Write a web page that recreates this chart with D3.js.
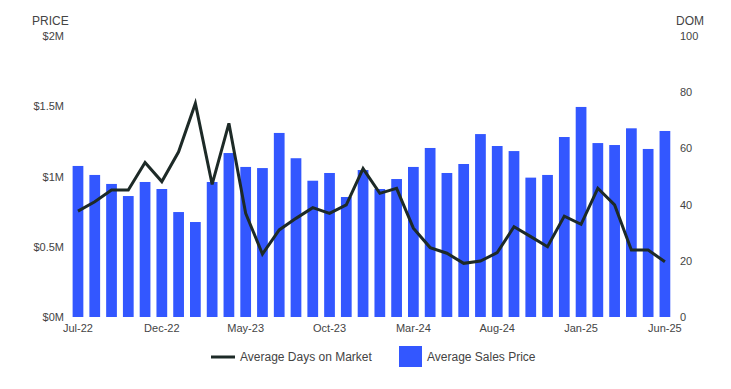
<!DOCTYPE html>
<html>
<head>
<meta charset="utf-8">
<script src="https://cdn.jsdelivr.net/npm/d3@7"></script>
<style>
  body { margin: 0; background: #fff; }
  svg { font-family: "Liberation Sans", Arial, sans-serif; }
  .axis text { fill: #444; font-size: 11px; }
  .axis path, .axis line { display: none; }
</style>
</head>
<body>
<div id="chart"></div>
<script>
// months shown on the x axis
var months = [
    "Jul-22", "Aug-22", "Sep-22", "Oct-22", "Nov-22", "Dec-22",
    "Jan-23", "Feb-23", "Mar-23", "Apr-23", "May-23", "Jun-23",
    "Jul-23", "Aug-23", "Sep-23", "Oct-23", "Nov-23", "Dec-23",
    "Jan-24", "Feb-24", "Mar-24", "Apr-24", "May-24", "Jun-24",
    "Jul-24", "Aug-24", "Sep-24", "Oct-24", "Nov-24", "Dec-24",
    "Jan-25", "Feb-25", "Mar-25", "Apr-25", "May-25", "Jun-25"
];
var shownMonths = ["Jul-22", "Dec-22", "May-23", "Oct-23", "Mar-24", "Aug-24", "Jan-25", "Jun-25"];

// average sales price (dollars)
var salesPrice = [
    1075000, 1011000, 947000, 861000, 961000, 911000,
    747000, 676000, 961000, 1167000, 1068000, 1060000,
    1310000, 1130000, 970000, 1025000, 854000, 1046000,
    911000, 982000, 1068000, 1203000, 1025000, 1089000,
    1302000, 1217000, 1181000, 992000, 1011000, 1281000,
    1495000, 1238000, 1224000, 1343000, 1196000, 1324000
];

// average days on market
var daysOnMarket = [
    37.7, 41, 45.2, 45.2, 55, 48.2,
    58.8, 76, 47.2, 68.9, 36.9, 22.4,
    31, 35.1, 38.9, 36.9, 39.9, 52.8,
    44, 45.8, 31.6, 24.7, 22.7, 19.1,
    19.9, 22.9, 32.1, 28.6, 25, 35.9,
    33, 45.8, 39.9, 23.8, 23.8, 19.7
];

var priceTicks = [0, 500000, 1000000, 1500000, 2000000];
var priceTickLabels = ["$0M", "$0.5M", "$1M", "$1.5M", "$2M"];
var domTicks = [0, 20, 40, 60, 80, 100];

var svgWidth = 731, svgHeight = 389;
var plotLeft = 69.6, plotRight = 673.3, plotTop = 36, plotBottom = 317;

var svg = d3.select("#chart").append("svg")
    .attr("width", svgWidth)
    .attr("height", svgHeight);

var x = d3.scaleBand()
    .domain(months)
    .range([plotLeft, plotRight])
    .paddingInner(0.36)
    .paddingOuter(0.18);

var yPrice = d3.scaleLinear().domain([0, 2000000]).range([plotBottom, plotTop]);
var yDom = d3.scaleLinear().domain([0, 100]).range([plotBottom, plotTop]);

// bars
svg.selectAll(".bar")
    .data(salesPrice)
    .enter().append("rect")
    .attr("class", "bar")
    .attr("fill", "#3357ff")
    .attr("x", function (d, i) { return x(months[i]); })
    .attr("width", x.bandwidth())
    .attr("y", function (d) { return yPrice(d); })
    .attr("height", function (d) { return plotBottom - yPrice(d); });

// days on market line
var line = d3.line()
    .x(function (d, i) { return x(months[i]) + x.bandwidth() / 2; })
    .y(function (d) { return yDom(d); });

svg.append("path")
    .datum(daysOnMarket)
    .attr("fill", "none")
    .attr("stroke", "#1d2a27")
    .attr("stroke-width", 3)
    .attr("d", line);

// axes
svg.append("g")
    .attr("class", "axis")
    .attr("transform", "translate(64,0)")
    .call(d3.axisLeft(yPrice).tickValues(priceTicks).tickSize(0).tickPadding(0)
        .tickFormat(function (d, i) { return priceTickLabels[i]; }));

svg.append("g")
    .attr("class", "axis")
    .attr("transform", "translate(680,0)")
    .call(d3.axisRight(yDom).tickValues(domTicks).tickSize(0).tickPadding(0));

svg.append("g")
    .attr("class", "axis")
    .attr("transform", "translate(0," + (plotBottom + 7) + ")")
    .call(d3.axisBottom(x).tickValues(shownMonths).tickSize(0).tickPadding(0));

// axis titles
svg.append("text")
    .attr("x", 32).attr("y", 25)
    .attr("fill", "#444").attr("font-size", 12)
    .text("PRICE");

svg.append("text")
    .attr("x", 676).attr("y", 25)
    .attr("fill", "#444").attr("font-size", 12)
    .text("DOM");

// legend
var legend = svg.append("g").attr("transform", "translate(0,357)");
legend.append("line")
    .attr("x1", 211).attr("x2", 235)
    .attr("y1", 0).attr("y2", 0)
    .attr("stroke", "#1d2a27").attr("stroke-width", 3);
legend.append("text")
    .attr("x", 240).attr("y", 4)
    .attr("fill", "#444").attr("font-size", 12)
    .text("Average Days on Market");
legend.append("rect")
    .attr("x", 399).attr("y", -11)
    .attr("width", 23).attr("height", 21)
    .attr("fill", "#3357ff");
legend.append("text")
    .attr("x", 427).attr("y", 4)
    .attr("fill", "#444").attr("font-size", 12)
    .text("Average Sales Price");
</script>
</body>
</html>
